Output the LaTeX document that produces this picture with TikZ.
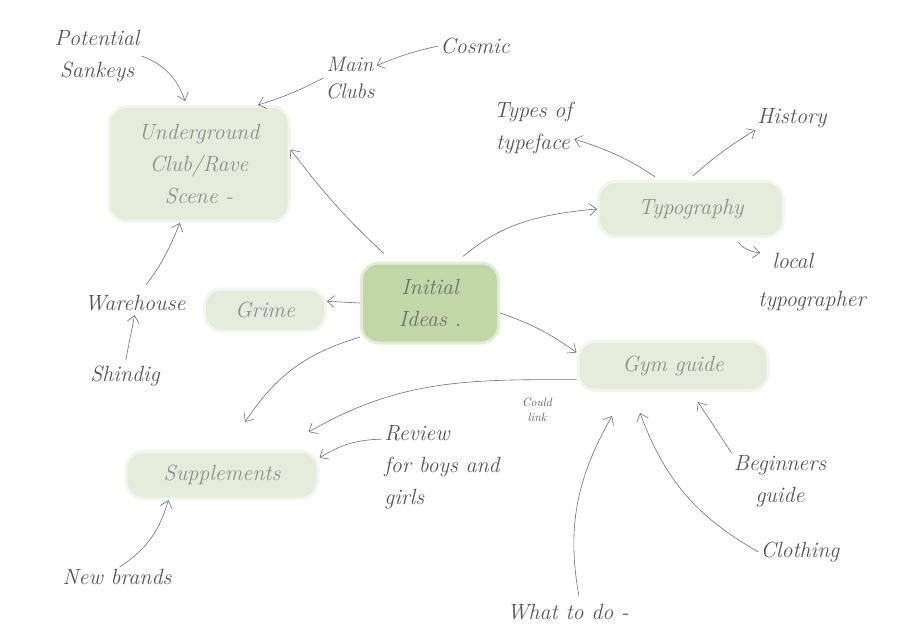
\documentclass[tikz,border=0pt]{standalone}
\usetikzlibrary{arrows.meta,calc}
\definecolor{ink}{HTML}{555555}
\definecolor{faint}{HTML}{8E8E8E}
\definecolor{lineink}{HTML}{707070}
\definecolor{pale}{HTML}{E6ECDB}
\definecolor{leaf}{HTML}{C2D7A6}
\tikzset{
  txt/.style={font=\fontsize{22}{32}\selectfont\itshape, text=ink, align=center, inner sep=2pt},
  blob/.style={txt, text=faint, fill=pale, draw=pale, draw opacity=0.45, line width=6pt, rounded corners=16pt, inner sep=0pt},
  core/.style={blob, fill=leaf, draw=leaf, text=ink!85},
  small/.style={txt, font=\fontsize{12}{15}\selectfont\itshape},
  arr/.style={-{Straight Barb[length=7pt,width=12pt]}, draw=lineink, line width=0.6pt},
}
\begin{document}
\begin{tikzpicture}[x=1pt,y=1pt]
\useasboundingbox[fill=white] (0,0) rectangle (920,-640);

% blobs
\node[blob, minimum width=177, minimum height=112] (ug) at (199,-164) {Underground\\Club/Rave\\Scene -};
\node[blob, minimum width=182, minimum height=52] (typo) at (691,-209) {Typography};
\node[core, minimum width=134, minimum height=77] (init) at (430,-303) {Initial\\Ideas .};
\node[blob, minimum width=118, minimum height=39] (grime) at (265,-310) {Grime};
\node[blob, minimum width=187, minimum height=46] (gym) at (673,-366) {Gym guide};
\node[blob, minimum width=189, minimum height=44] (supp) at (222,-475) {Supplements};

% plain texts
\node[txt] (sankeys) at (97,-56) {Potential\\Sankeys};
\node[txt, font=\fontsize{21}{27}\selectfont\itshape] (mainclubs) at (350,-78) {Main\\Clubs};
\node[txt] (cosmic) at (475,-46) {Cosmic};
\node[txt] (types) at (533,-128) {Types of\\typeface};
\node[txt] (history) at (792,-118) {History};
\node[txt, align=left, font=\fontsize{22}{38}\selectfont\itshape] (local) at (812,-282) {\hspace*{14pt}local\\typographer};
\node[txt] (warehouse) at (135,-303) {Warehouse};
\node[txt] (shindig) at (125,-376) {Shindig};
\node[txt, align=left] (review) at (442,-467) {Review\\for boys and\\girls};
\node[small] (could) at (537,-410) {Could\\link};
\node[txt] (newbrands) at (117,-577) {New brands};
\node[txt] (wtd) at (568,-612) {What to do -};
\node[txt] (beginners) at (780,-481) {Beginners\\guide};
\node[txt] (clothing) at (800,-552) {Clothing};

% connectors
\draw[arr] (sankeys.east) to[bend left=25] ($(ug.north)+(-14,4)$);
\draw[arr] (mainclubs.west) to[bend left=5] (ug.45);
\draw[arr] (cosmic.west) to[bend right=5] (mainclubs.25);
\draw[arr, shorten <=6pt] (typo.137) to[bend right=8] (types.-15);
\draw[arr, shorten <=6pt] (typo.95) to[bend left=5] (history.south west);
\draw[arr, shorten <=5pt] (typo.-33) to[bend right=25] ($(local.north west)+(4,-2)$);
\draw[arr, shorten <=12pt] (init.132) to[bend left=5] (ug.9);
\draw[arr, shorten <=8pt] (init.57) to[out=40,in=185] (typo.west);
\draw[arr] (init.west) -- (grime.8);
\draw[arr] (init.206) to[bend right=20] ($(supp.north)+(23,28)$);
\draw[arr] (init.-8) to[bend left=8] (gym.172);
\draw[arr] (gym.188) to[out=180,in=30] ($(supp.north east)+(-11,18)$);
\draw[arr] (review.155) to[bend right=15] (supp.10);
\draw[arr] (newbrands.75) to[bend right=20] (supp.205);
\draw[arr, shorten <=4pt, shorten >=2pt] (shindig.north) -- (warehouse.south);
\draw[arr, shorten <=10pt] (warehouse.65) to[bend right=8] (ug.252);
\draw[arr, shorten <=6pt] (wtd.40) to[bend left=20] ($(gym.south)+(-61,-24)$);
\draw[arr] (clothing.west) to[bend left=20] ($(gym.south)+(-33,-21)$);
\draw[arr] (beginners.north west) -- ($(gym.south)+(25,-10)$);
\end{tikzpicture}
\end{document}
